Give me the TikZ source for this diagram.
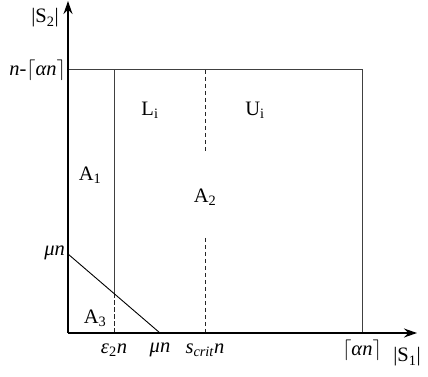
\documentclass[tikz,border=0pt]{standalone}
\usepackage{fontspec}
\setmainfont{Liberation Serif}
\usetikzlibrary{arrows.meta,positioning}
\begin{document}
\begin{tikzpicture}[x=1pt,y=1pt,
  axis/.style={line width=1.3pt,-{Stealth[length=13pt,width=9pt]}},
  bound/.style={draw=black!75,line width=1pt},
  dbound/.style={draw=black!85,line width=0.8pt,dash pattern=on 4.5pt off 2.5pt},
  lbl/.style={font=\fontsize{20.5}{24}\selectfont,inner sep=1pt}
]
  \useasboundingbox (-68,-44) rectangle (360,333);
  % corner points
  \coordinate (O) at (0,0);
  \coordinate (xend) at (349,0);
  \coordinate (yend) at (0,332);
  \coordinate (tl) at (0,263);
  \coordinate (tr) at (294,263);
  \coordinate (br) at (294,0);
  % eps_2 n line
  \coordinate (et) at (46,263);
  \coordinate (em) at (46,39.5);
  \coordinate (eb) at (46,0);
  % mu n diagonal
  \coordinate (mua) at (0,79);
  \coordinate (mub) at (92,0);
  % s_crit n line
  \coordinate (st) at (137,263);
  \coordinate (sa) at (137,181);
  \coordinate (sb) at (137,95);
  \coordinate (sc) at (137,0);

  % box and dividers
  \draw[bound] (tl) -- (tr) -- (br);
  \draw[bound] (et) -- (em);
  \draw[dbound] (em) -- (eb);
  \draw[dbound] (st) -- (sa);
  \draw[dbound] (sb) -- (sc);
  \draw[line width=0.9pt] (mua) -- (mub);
  % axes
  \draw[axis] (O) -- (xend);
  \draw[axis] (O) -- (yend);

  % axis labels
  \node[lbl] (s2) at (-23,315) {|S\textsubscript{2}|};
  \node[lbl] (s1) at (339,-24) {|S\textsubscript{1}|};
  \node[lbl,anchor=east] (ntop) at (-1,263) {\textit{n}-$\lceil$\textit{αn}$\rceil$};
  \node[lbl,anchor=east] (muy) at (-2,80) {\textit{μn}};
  \node[lbl] (epsx) at (46,-17) {\textit{ε}\textsubscript{2}\textit{n}};
  \node[lbl] (mux) at (92,-17) {\textit{μn}};
  \node[lbl] (scrit) at (137,-17) {\textit{s}\textsubscript{\textit{crit}}\textit{n}};
  \node[lbl] (alx) at (294,-17) {$\lceil$\textit{αn}$\rceil$};

  % region labels
  \node[lbl] (Li) at (82,223) {L\textsubscript{i}};
  \node[lbl] (Ui) at (187,223) {U\textsubscript{i}};
  \node[lbl] (A1) at (22,158) {A\textsubscript{1}};
  \node[lbl] (A2) at (137,136) {A\textsubscript{2}};
  \node[lbl] (A3) at (27,15) {A\textsubscript{3}};
\end{tikzpicture}
\end{document}
